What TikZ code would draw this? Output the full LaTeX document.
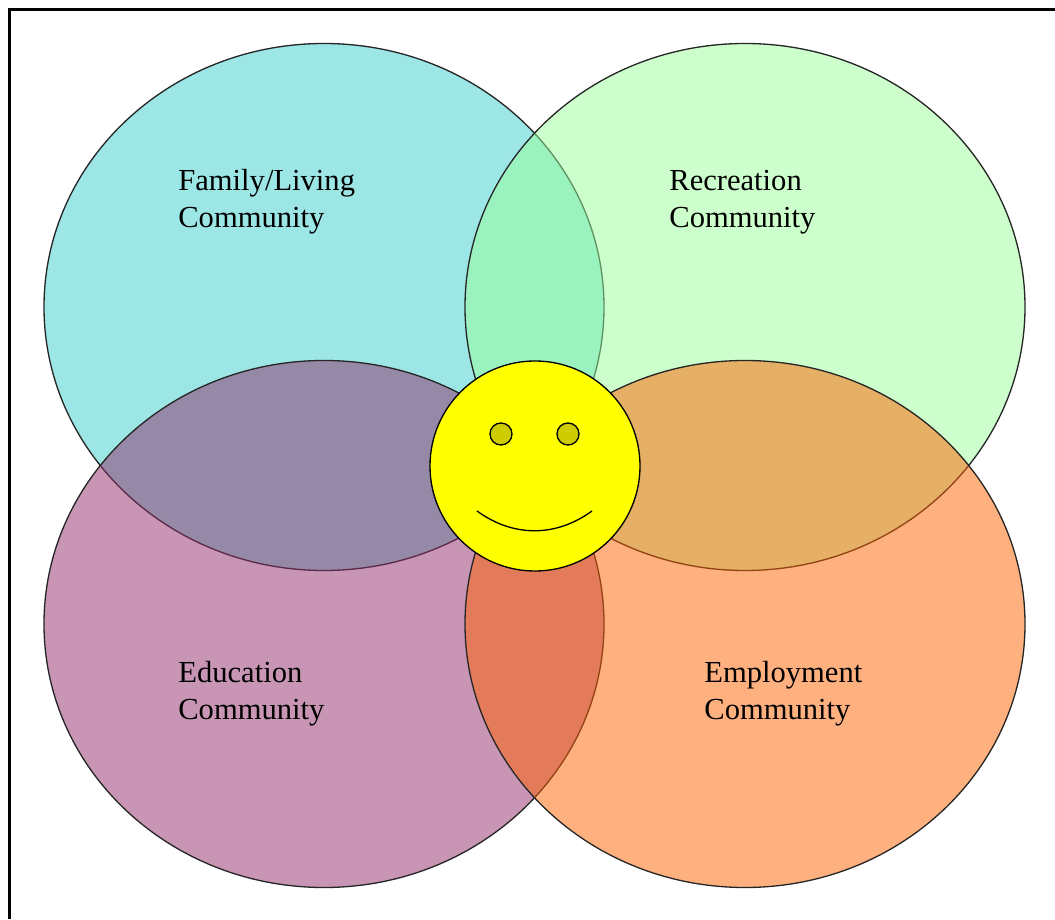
\documentclass[tikz,border=0pt]{standalone}
\usepackage{fontspec}
\setmainfont{Liberation Serif}
\usetikzlibrary{shapes.geometric}
\definecolor{familyteal}{RGB}{59,205,205}
\definecolor{recgreen}{RGB}{153,255,153}
\definecolor{eduplum}{RGB}{145,45,105}
\definecolor{joborange}{RGB}{255,97,0}
\definecolor{eyeolive}{RGB}{204,204,0}
\definecolor{faceyellow}{RGB}{255,255,0}
\begin{document}
\begin{tikzpicture}
        \tikzset{community/.style = {shape=ellipse,draw=black!85,line width=0.75pt,fill opacity=0.5,inner sep=0pt,minimum width=11.2cm,minimum height=10.54cm}}
        \tikzset{caption/.style = {anchor=west,align=left,inner sep=0pt,font=\fontsize{17.4}{21}\selectfont}}
        \tikzset{eye/.style = {shape=circle,draw=black,line width=0.75pt,fill=eyeolive,inner sep=0pt,minimum size=0.44cm}}
        \useasboundingbox (0,0) rectangle (21.1,18.38);
        % frame
        \coordinate (framea) at (0.19,0);
        \coordinate (frameb) at (0.19,18.19);
        \coordinate (framec) at (21.1,18.19);
        \draw[line width=1.5pt] (framea) -- (frameb) -- (framec);
        % circles
        \node[community,fill=familyteal] (family) at (6.48,12.24) {};
        \node[community,fill=recgreen] (recreation) at (14.90,12.24) {};
        \node[community,fill=eduplum] (education) at (6.48,5.90) {};
        \node[community,fill=joborange] (employment) at (14.90,5.90) {};
        % labels
        \node[caption] (familytext) at (3.56,14.34) {Family/Living\\Community};
        \node[caption] (recreationtext) at (13.38,14.34) {Recreation\\Community};
        \node[caption] (educationtext) at (3.56,4.50) {Education\\Community};
        \node[caption] (employmenttext) at (14.08,4.50) {Employment\\Community};
        % face
        \node[shape=circle,draw=black,line width=0.75pt,fill=faceyellow,inner sep=0pt,minimum size=4.2cm] (face) at (10.70,9.06) {};
        \node[eye] (lefteye) at (10.02,9.70) {};
        \node[eye] (righteye) at (11.36,9.70) {};
        \coordinate (mouthl) at (9.54,8.16);
        \coordinate (mouthr) at (11.84,8.16);
        \draw[line width=0.75pt] (mouthl) to[bend right=36] (mouthr);
\end{tikzpicture}
\end{document}
